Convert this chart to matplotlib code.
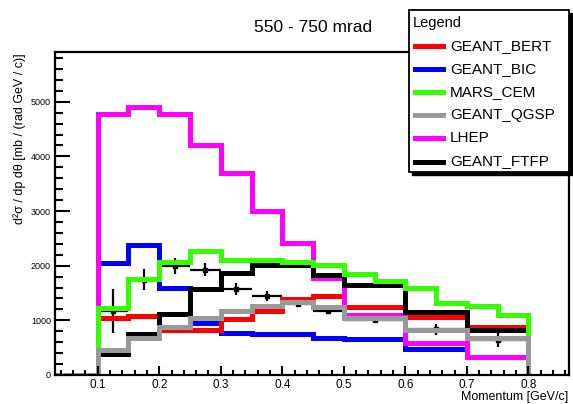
import numpy as np
import matplotlib
matplotlib.use("Agg")
import matplotlib.pyplot as plt
from matplotlib.lines import Line2D
from matplotlib.patches import Rectangle

plt.rcParams['font.family'] = ['Liberation Sans', 'DejaVu Sans']

# ---------------- data ----------------
bin_edges = [0.10, 0.15, 0.20, 0.25, 0.30, 0.35, 0.40, 0.45, 0.50,
             0.55, 0.60, 0.65, 0.70, 0.75, 0.80]

geant_bert = [1050, 1085, 825, 815, 1020, 1165, 1390, 1440, 1250, 1250, 1070, 1070, 875, 875]
geant_bic  = [2045, 2385, 1595, 955, 775, 745, 745, 675, 655, 655, 475, 475, 330, 330]
mars_cem   = [1225, 1755, 2060, 2260, 2110, 2110, 2065, 2005, 1855, 1715, 1590, 1315, 1255, 1100]
geant_qgsp = [450, 675, 875, 1040, 1175, 1255, 1330, 1250, 1040, 1040, 825, 825, 685, 685]
lhep       = [4780, 4900, 4780, 4210, 3700, 3000, 2410, 1775, 1100, 1100, 580, 580, 336, 336]
geant_ftfp = [390, 755, 1115, 1565, 1865, 2020, 2020, 1835, 1640, 1640, 1145, 1145, 825, 825]

data_x    = [0.125, 0.175, 0.225, 0.275, 0.325, 0.375, 0.425, 0.475, 0.55, 0.65, 0.75]
data_y    = [1170, 1745, 1990, 1925, 1575, 1440, 1290, 1170, 1005, 835, 640]
data_yerr = [410, 190, 150, 120, 105, 90, 30, 35, 25, 100, 120]
data_xerr = [0.025, 0.025, 0.025, 0.025, 0.025, 0.025, 0.025, 0.025, 0.05, 0.05, 0.05]

labels = ['GEANT_BERT', 'GEANT_BIC', 'MARS_CEM', 'GEANT_QGSP', 'LHEP', 'GEANT_FTFP']
series = [geant_bert, geant_bic, mars_cem, geant_qgsp, lhep, geant_ftfp]
colors = ['#ff0000', '#0000ff', '#33ff00', '#999999', '#ff00ff', '#000000']
zorders = [2.1, 2.0, 2.4, 2.45, 2.2, 2.3]

title = '550 - 750 mrad'
xlabel = 'Momentum [GeV/c]'
ylabel = 'd²σ / dp dθ [mb / (rad GeV / c)]'

# ---------------- figure ----------------
W, H = 573, 404
fig = plt.figure(figsize=(W / 100, H / 100), dpi=100)
L, R, T, B = 55, 569, 52, 375
ax = fig.add_axes([L / W, 1 - B / H, (R - L) / W, (B - T) / H])

edges = np.concatenate([[0.0], bin_edges])
for vals, c, z in zip(series, colors, zorders):
    ax.stairs(np.concatenate([[0.0], vals]), edges, baseline=0,
              color=c, lw=3.6, zorder=z)

ax.errorbar(data_x, data_y, yerr=data_yerr, xerr=data_xerr, fmt='s',
            ms=2.5, color='black', ecolor='black', elinewidth=1.6,
            capsize=0, zorder=1.8)

ax.set_xlim(0.0306, 0.866)
ax.set_ylim(0, 5910)
ax.set_xticks([0.1, 0.2, 0.3, 0.4, 0.5, 0.6, 0.7, 0.8])
ax.set_xticklabels(['0.1', '0.2', '0.3', '0.4', '0.5', '0.6', '0.7', '0.8'])
ax.set_xticks(np.arange(0.04, 0.87, 0.02), minor=True)
ax.set_yticks([0, 1000, 2000, 3000, 4000, 5000])
ax.set_yticklabels(['0', '1000', '2000', '3000', '4000', '5000'])
ax.set_yticks(np.arange(0, 5901, 200), minor=True)
ax.set_axisbelow(False)

ax.tick_params(axis='x', which='major', direction='in', length=6.5, width=1.5,
               labelsize=8.5, pad=3, top=False)
ax.tick_params(axis='x', which='minor', direction='in', length=3.5, width=1.5, top=False)
ax.tick_params(axis='y', which='major', direction='in', length=10.5, width=1.5,
               labelsize=6.5, pad=3, right=False)
ax.tick_params(axis='y', which='minor', direction='in', length=5.5, width=1.5, right=False)
for s in ax.spines.values():
    s.set_linewidth(1.6)

# texts
fig.text(313.5 / W, 1 - 27 / H, title, ha='center', va='center', fontsize=12.5)
fig.text(568 / W, 1 - 397 / H, xlabel, ha='right', va='center', fontsize=9)
fig.text(20 / W, 1 - 53 / H, ylabel, ha='center', va='top', rotation=90, fontsize=9)

# legend box with shadow
def fx(px):
    return px / W

def fy(py):
    return 1 - py / H

lx0, ly0, lx1, ly1 = 409, 10, 569, 172
fig.add_artist(Rectangle((fx(lx0 + 3), fy(ly1 + 3)), fx(lx1 - lx0), (ly1 - ly0) / H,
                         facecolor='black', edgecolor='black', transform=fig.transFigure, zorder=5))
fig.add_artist(Rectangle((fx(lx0), fy(ly1)), fx(lx1 - lx0), (ly1 - ly0) / H,
                         facecolor='white', edgecolor='black', lw=1.3,
                         transform=fig.transFigure, zorder=6))
fig.text(fx(413), fy(23), 'Legend', ha='left', va='center', fontsize=10.5, zorder=7)
row_y = [46, 69.3, 92, 115, 138, 161.5]
for lab, c, yy in zip(labels, colors, row_y):
    fig.add_artist(Line2D([fx(415), fx(443)], [fy(yy), fy(yy)], color=c, lw=3.6,
                          transform=fig.transFigure, zorder=7))
    fig.text(fx(450), fy(yy), lab, ha='left', va='center', fontsize=11, zorder=7)

fig.savefig('out.png', dpi=100)
